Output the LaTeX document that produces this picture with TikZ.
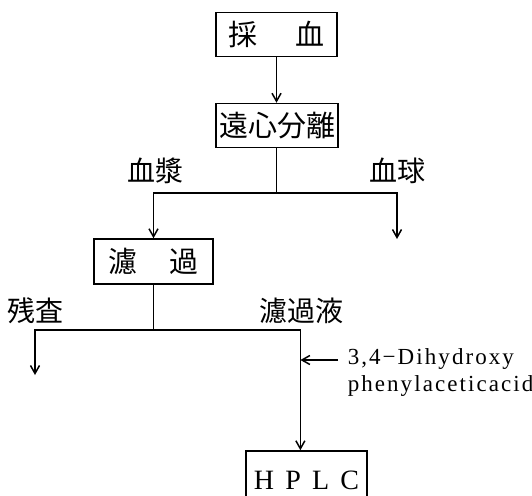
\documentclass[tikz,border=0pt]{standalone}
\usepackage{fontspec}
\setmainfont{Liberation Serif}
\newfontfamily\cjk{Noto Sans CJK JP}
\newfontfamily\latinsp[LetterSpace=9]{Liberation Serif}
\usetikzlibrary{arrows.meta,calc}
\begin{document}
\begin{tikzpicture}[x=1pt,y=-1pt,
  line width=1.5pt,
  box/.style={draw,line width=1.5pt,inner sep=0pt,font=\cjk\fontsize{29}{32}\selectfont},
  lbl/.style={inner sep=0pt,font=\cjk\fontsize{28}{30}\selectfont},
  arr/.style={-{Straight Barb[length=8pt,width=9pt,line width=1.5pt]}}]
\useasboundingbox (0,0) rectangle (532,495);
\clip (0,0) rectangle (532,495);
% boxes
\node[box,minimum width=121pt,minimum height=44pt] (sai) at (276.5,34.5) {採\hspace{1.3em}血};
\node[box,minimum width=122pt,minimum height=44pt] (ens) at (277,125.5) {遠心分離};
\node[box,minimum width=119pt,minimum height=45pt] (roka) at (153.5,261.5) {濾\hspace{1.1em}過};
\node[box,minimum width=121pt,minimum height=58pt,font=\fontsize{28}{30}\selectfont] (hplc) at (306.5,480) {H\hspace{0.4em}P\hspace{0.4em}L\hspace{0.4em}C};
% labels
\node[lbl] (kessho) at (155,171) {血漿};
\node[lbl] (kekkyu) at (397,171) {血球};
\node[lbl] (zansa) at (35,311) {残査};
\node[lbl] (rokaeki) at (301,311) {濾過液};
\node[anchor=north west,align=left,inner sep=0pt,font=\latinsp\fontsize{23}{27}\selectfont] (dopac) at (347,348) {3,4−Dihydroxy\\phenylaceticacid};
% connectors
\coordinate (b1) at (276.5,193);
\coordinate (kyu) at (397,239);
\draw[arr] (sai.south) -- (sai.south |- ens.north);
\draw (ens.south -| b1) -- (b1);
\draw[arr] (b1) -| (roka.north);
\draw[arr] (b1) -| (kyu);
\coordinate (b2) at (153.5,330);
\coordinate (zan) at (35,375);
\coordinate (hin) at ($(hplc.north west)!0.45!(hplc.north east)$);
\draw (roka.south) -- (b2);
\draw[arr] (b2) -| (zan);
\draw[arr] (b2) -| (hin);
\coordinate (sa) at (338,360);
\coordinate (se) at (hin |- sa);
\draw[arr] (sa) -- (se);
\end{tikzpicture}
\end{document}
